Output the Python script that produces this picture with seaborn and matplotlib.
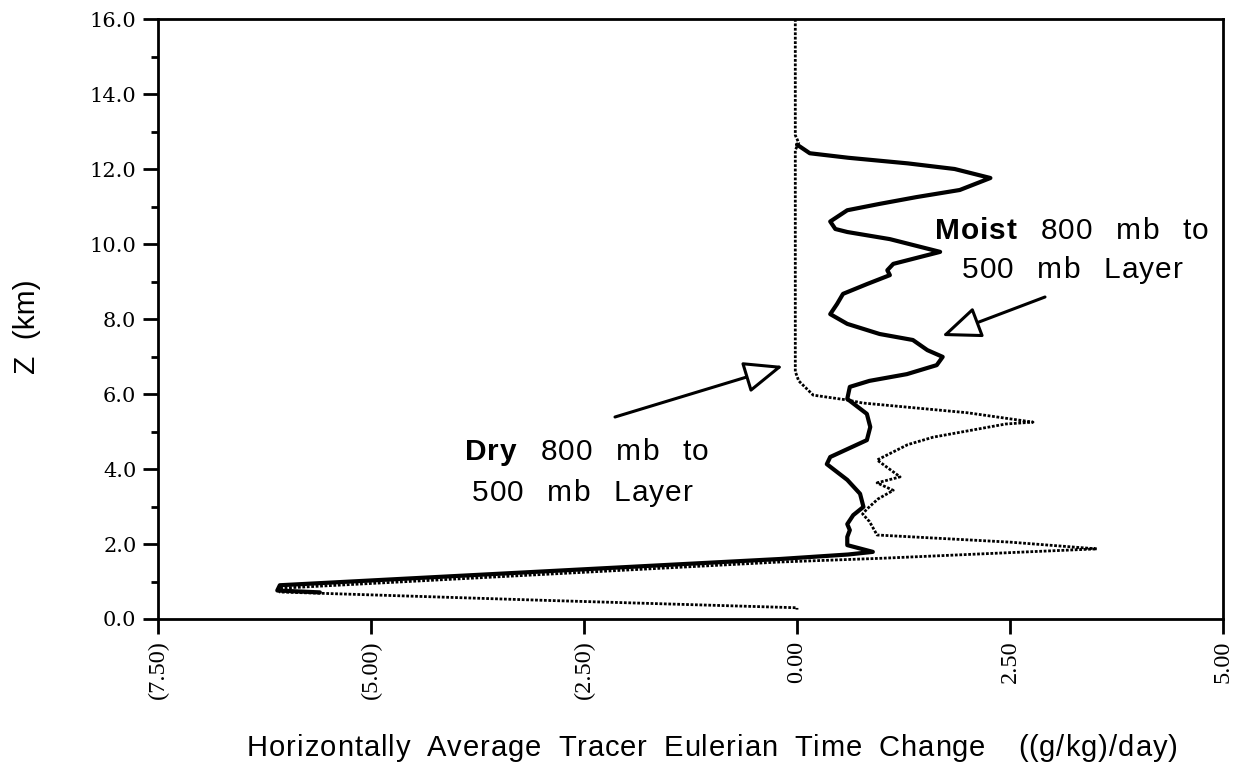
import matplotlib
matplotlib.use("Agg")
import matplotlib.pyplot as plt
import seaborn as sns
import numpy as np

# ---- data ----
moist_x = [0.0, 0.15, 0.6, 1.3, 1.85, 2.27, 1.91, 1.4, 0.97, 0.59, 0.39, 0.45, 0.59, 1.09, 1.68,
           1.13, 1.06, 1.09, 0.82, 0.54, 0.47, 0.39, 0.59, 0.97, 1.36, 1.53, 1.71, 1.64, 1.29,
           0.85, 0.62, 0.59, 0.82, 0.86, 0.82, 0.39, 0.35, 0.59, 0.74, 0.78, 0.66, 0.59, 0.62,
           0.59, 0.59, 0.89, 0.6, -0.2, -6.07, -6.1, -5.6]
moist_z = [12.65, 12.42, 12.3, 12.15, 12.0, 11.76, 11.44, 11.25, 11.07, 10.9, 10.6, 10.4, 10.32,
           10.13, 9.79, 9.47, 9.3, 9.17, 8.93, 8.67, 8.4, 8.13, 7.87, 7.6, 7.44, 7.17, 6.99, 6.77,
           6.53, 6.35, 6.19, 5.87, 5.47, 5.12, 4.77, 4.32, 4.13, 3.71, 3.34, 2.99, 2.77, 2.53,
           2.37, 2.19, 1.97, 1.79, 1.72, 1.6, 0.9, 0.76, 0.71]

dry_x = [-0.02, -0.02, 0.02, -0.02, -0.02, 0.02, 0.19, 0.59, 0.77, 2.0, 2.77, 2.45, 1.6, 1.3,
         0.94, 1.21, 0.94, 1.13, 0.95, 0.82, 0.77, 0.85, 0.94, 2.5, 3.52, 2.8, 1.0, -0.2,
         -6.07, -6.07, -3.0, 0.0, 0.0]
dry_z = [16.0, 12.9, 12.7, 12.5, 6.6, 6.35, 5.97, 5.84, 5.76, 5.5, 5.25, 5.2, 4.85, 4.65,
         4.24, 3.79, 3.63, 3.43, 3.2, 2.93, 2.8, 2.6, 2.24, 2.05, 1.87, 1.8, 1.62, 1.52,
         0.82, 0.72, 0.5, 0.3, 0.25]

x_ticks = [-7.5, -5.0, -2.5, 0.0, 2.5, 5.0]
x_ticklabels = ["(7.50)", "(5.00)", "(2.50)", "0.00", "2.50", "5.00"]
y_ticks = [0, 2, 4, 6, 8, 10, 12, 14, 16]
y_ticklabels = ["0.0", "2.0", "4.0", "6.0", "8.0", "10.0", "12.0", "14.0", "16.0"]
x_label = "Horizontally Average Tracer Eulerian Time Change  ((g/kg)/day)"
y_label = "Z  (km)"

sns.set_theme(style="white")
plt.rcParams['font.family'] = ['Liberation Sans', 'DejaVu Sans']
for k in ["text.color", "axes.labelcolor", "xtick.color", "ytick.color", "axes.edgecolor"]:
    plt.rcParams[k] = "black"

W, H = 1251, 778
fig = plt.figure(figsize=(W / 100, H / 100), dpi=100)
ax_left, ax_right, ax_bottom, ax_top = 158, 1223, 619, 19
ax = fig.add_axes([ax_left / W, 1 - ax_bottom / H, (ax_right - ax_left) / W, (ax_bottom - ax_top) / H])

sns.lineplot(x=moist_x, y=moist_z, sort=False, estimator=None, ax=ax,
             color="black", linewidth=3.0, solid_joinstyle="round")
sns.lineplot(x=dry_x, y=dry_z, sort=False, estimator=None, ax=ax,
             color="black", linewidth=2.0, linestyle=(0, (1, 0.6)))

ax.set_xlim(-7.5, 5.0)
ax.set_ylim(0, 16)
for s in ax.spines.values():
    s.set_visible(True)
    s.set_color("black")
    s.set_linewidth(2.0)

ax.set_xticks(x_ticks)
ax.set_xticklabels(x_ticklabels, rotation=90, family="Liberation Serif", fontsize=17.5)
ax.set_yticks(y_ticks)
ax.set_yticklabels(y_ticklabels, family="DejaVu Serif", fontsize=15)
ax.set_yticks(np.arange(1, 16, 2), minor=True)
ax.tick_params(axis="both", which="major", direction="out", length=10.5, width=2,
               color="black", bottom=True, left=True, top=False, right=False, pad=5)
ax.tick_params(axis="y", which="minor", direction="out", length=5, width=2,
               color="black", left=True)
ax.set_xlabel("")
ax.set_ylabel("")


def tracked(x, y, segments, size, track_pt, space_pt, transform):
    """Draw text glyph by glyph with a little letter spacing and wide word spaces."""
    prev = None
    pending = 0.0
    for text, weight in segments:
        for ch in text:
            if ch == " ":
                pending += space_pt
                continue
            if prev is None:
                prev = ax.text(x, y, ch, transform=transform, ha="left", va="baseline",
                               fontsize=size, fontweight=weight, clip_on=False)
            else:
                prev = ax.annotate(ch, xy=(1, 0), xycoords=prev,
                                   xytext=(track_pt + pending, 0), textcoords="offset points",
                                   ha="left", va="bottom", fontsize=size, fontweight=weight,
                                   annotation_clip=False)
            pending = 0.0
    return prev


fig.text(27 / W, 1 - 327 / H, y_label, rotation=90, ha="center", va="center", fontsize=21.5)
tracked(247 / W, 1 - 756 / H, [(x_label, "normal")], 21, 0.7, 11.3, fig.transFigure)


def px2data(px, py):
    return (-7.5 + (px - ax_left) * 12.5 / (ax_right - ax_left),
            (ax_bottom - py) * 16.0 / (ax_bottom - ax_top))


fs, tr, sp = 21.5, 0.7, 16.5
tracked(*px2data(935, 239), [("Moist", "bold"), (" 800 mb to", "normal")], fs, tr, sp, ax.transData)
tracked(*px2data(962, 278), [("500 mb Layer", "normal")], fs, tr, sp, ax.transData)
tracked(*px2data(465, 460), [("Dry", "bold"), (" 800 mb to", "normal")], fs, tr, sp, ax.transData)
tracked(*px2data(472, 501), [("500 mb Layer", "normal")], fs, tr, sp, ax.transData)

arrow_kw = dict(arrowstyle="-|>,head_length=1.1,head_width=0.45", facecolor="white",
                edgecolor="black", lw=2.2, mutation_scale=22, shrinkA=0, shrinkB=0)
ax.annotate("", xy=px2data(942, 336), xytext=px2data(1045, 297), arrowprops=arrow_kw)
ax.annotate("", xy=px2data(783, 366), xytext=px2data(615, 417), arrowprops=arrow_kw)

fig.savefig("out.png", dpi=100)
